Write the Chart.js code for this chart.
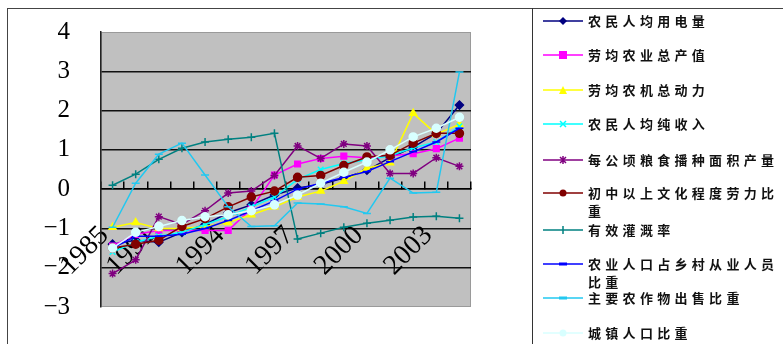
<!DOCTYPE html>
<html>
<head>
<meta charset="utf-8">
<script src="https://cdn.jsdelivr.net/npm/chart.js@4.4.1/dist/chart.umd.min.js"></script>
<style>
  html, body { margin: 0; padding: 0; background: #fff; }
  #wrap { position: relative; width: 783px; height: 344px; overflow: hidden; }
  #c { position: absolute; left: 0; top: 0; }
  #frame { position: absolute; left: 7px; top: 8px; width: 800px; height: 400px; border: 1px solid #444; box-sizing: border-box; }
  #divider { position: absolute; left: 532px; top: 8px; width: 1px; height: 340px; background: #333; }
  .item { position: absolute; left: 543px; }
  .item svg { position: absolute; left: 0; top: 3px; }
  .item .txt { position: absolute; left: 45px; width: 194px; font-family: "Noto Sans CJK SC", sans-serif; font-weight: bold; font-size: 13px; line-height: 18px; letter-spacing: 4.3px; color: #111; }
</style>
</head>
<body>
<div id="wrap">
  <canvas id="c" width="783" height="344"></canvas>
  <div id="frame"></div>
  <div id="divider"></div>
  <div id="legend"></div>
</div>
<script>
// ---- data ----
const categories = ['1985','1990','1991','1992','1993','1994','1995','1996','1997','1998','1999','2000','2001','2002','2003','2004'];
const shownLabelIdx = [0, 2, 5, 8, 11, 14];
const seriesNames = ['农民人均用电量','劳均农业总产值','劳均农机总动力','农民人均纯收入','每公顷粮食播种面积产量','初中以上文化程度劳力比重','有效灌溉率','农业人口占乡村从业人员比重','主要农作物出售比重','城镇人口比重'];
const elecPerCapita   = [-1.40,-1.30,-1.35,-1.10,-0.90,-0.60,-0.40,-0.15,0.03,0.12,0.28,0.48,0.80,1.07,1.42,2.14];
const agriOutputPerLab= [-1.45,-1.15,-1.05,-1.05,-1.05,-1.05,-0.50,0.36,0.64,0.78,0.84,0.80,0.85,0.90,1.03,1.30];
const machPowerPerLab = [-0.97,-0.85,-1.00,-1.00,-0.95,-0.85,-0.65,-0.45,-0.20,-0.05,0.20,0.53,0.67,1.93,1.40,1.65];
const netIncome       = [-1.60,-1.35,-1.20,-1.10,-0.90,-0.70,-0.45,-0.20,0.25,0.50,0.65,0.75,0.85,1.05,1.20,1.60];
const grainYield      = [-2.15,-1.80,-0.70,-0.90,-0.55,-0.10,-0.05,0.35,1.10,0.78,1.15,1.10,0.40,0.40,0.80,0.58];
const eduLaborShare   = [-1.50,-1.40,-1.30,-0.95,-0.75,-0.45,-0.20,-0.05,0.30,0.35,0.60,0.82,0.86,1.17,1.42,1.42];
const irrigationRate  = [0.10,0.38,0.76,1.04,1.20,1.27,1.32,1.42,-1.27,-1.12,-0.97,-0.87,-0.79,-0.71,-0.69,-0.74];
const agriPopShare    = [-1.50,-1.20,-1.20,-1.15,-1.00,-0.80,-0.55,-0.30,0.00,0.15,0.30,0.45,0.70,0.95,1.20,1.55];
const cropSaleShare   = [-0.97,0.15,0.89,1.17,0.36,-0.45,-0.95,-0.93,-0.35,-0.38,-0.45,-0.62,0.28,-0.10,-0.08,2.98];
const urbanPopShare   = [-1.50,-1.10,-0.95,-0.80,-0.70,-0.65,-0.55,-0.40,-0.15,0.15,0.43,0.69,1.00,1.33,1.55,1.83];
const yTicks = [-3,-2,-1,0,1,2,3,4];

const seriesValues = [elecPerCapita, agriOutputPerLab, machPowerPerLab, netIncome, grainYield, eduLaborShare, irrigationRate, agriPopShare, cropSaleShare, urbanPopShare];
const colors = ['#000080','#ff00ff','#ffff00','#00ffff','#800080','#800000','#008080','#0000ff','#22c8f0','#d8ffff'];
const pStyles = ['rectRot','rect','triangle','crossRot','star','circle','cross','line','line','circle'];
const pRadius = [4,4,4,4,4,4,4,4,4,4];

const datasets = seriesValues.map((vals, i) => ({
  label: seriesNames[i],
  data: vals,
  borderColor: colors[i],
  backgroundColor: colors[i],
  pointBorderColor: colors[i],
  pointBackgroundColor: colors[i],
  pointStyle: pStyles[i],
  pointRadius: pRadius[i],
  pointBorderWidth: 1.5,
  borderWidth: 1.5,
  tension: 0,
  order: seriesValues.length - i
}));

const plotBg = {
  id: 'plotBg',
  beforeDraw(chart) {
    const {ctx, chartArea: a} = chart;
    ctx.save();
    ctx.fillStyle = '#c0c0c0';
    ctx.fillRect(a.left, a.top, a.right - a.left, a.bottom - a.top);
    ctx.strokeStyle = '#9a9a9a';
    ctx.lineWidth = 1;
    ctx.strokeRect(a.left + 0.5, a.top + 0.5, a.right - a.left - 1, a.bottom - a.top - 1);
    ctx.restore();
  }
};

new Chart(document.getElementById('c'), {
  type: 'line',
  data: { labels: categories, datasets },
  plugins: [plotBg],
  options: {
    responsive: false,
    animation: false,
    layout: { padding: { left: 0, top: 32, right: 312, bottom: 37 } },
    plugins: { legend: { display: false }, tooltip: { enabled: false } },
    scales: {
      x: {
        position: { y: 0 },
        offset: true,
        afterFit: s => { s.height = 0; s.paddingLeft = 0; s.paddingRight = 0; },
        grid: { display: true, drawOnChartArea: false, drawTicks: true, tickLength: -8, offset: true, color: '#000', lineWidth: 1.5 },
        border: { display: true, color: '#000', width: 1.5 },
        ticks: {
          autoSkip: false, minRotation: 45, maxRotation: 45, padding: 38, labelOffset: -8,
          color: '#000',
          font: { family: '"Liberation Serif", serif', size: 28 },
          callback: (v, i) => shownLabelIdx.includes(i) ? categories[i] : ''
        }
      },
      y: {
        min: -3, max: 4,
        afterFit: s => { s.width = 101; s.paddingTop = 0; s.paddingBottom = 0; },
        afterBuildTicks: s => { s.ticks = yTicks.map(v => ({ value: v })); },
        grid: {
          drawTicks: false,
          lineWidth: 1.5,
          color: c => (c.tick && (c.tick.value === 4 || c.tick.value === -3)) ? 'rgba(0,0,0,0)' : '#111'
        },
        border: { display: true, color: '#222', width: 1.5 },
        ticks: {
          padding: 31, color: '#000',
          font: { family: '"Liberation Serif", serif', size: 25 },
          callback: v => (v < 0 ? '\u2212' + Math.abs(v) : String(v))
        }
      }
    }
  }
});

// ---- HTML legend ----
const legendTops = [21, 55, 90, 124, 160, 193, 230, 264, 298, 333];
function markerSvg(style, color) {
  let m = '';
  const cx = 20, cy = 6;
  if (style === 'rectRot') m = `<polygon points="${cx},${cy-4} ${cx+4},${cy} ${cx},${cy+4} ${cx-4},${cy}" fill="${color}"/>`;
  else if (style === 'rect') m = `<rect x="${cx-4}" y="${cy-4}" width="8" height="8" fill="${color}"/>`;
  else if (style === 'triangle') m = `<polygon points="${cx},${cy-4} ${cx+4},${cy+4} ${cx-4},${cy+4}" fill="${color}"/>`;
  else if (style === 'crossRot') m = `<path d="M${cx-3},${cy-3}L${cx+3},${cy+3}M${cx+3},${cy-3}L${cx-3},${cy+3}" stroke="${color}" stroke-width="1.5"/>`;
  else if (style === 'star') m = `<path d="M${cx-3},${cy-3}L${cx+3},${cy+3}M${cx+3},${cy-3}L${cx-3},${cy+3}M${cx},${cy-4}L${cx},${cy+4}" stroke="${color}" stroke-width="1.5"/>`;
  else if (style === 'circle') m = `<circle cx="${cx}" cy="${cy}" r="3.5" fill="${color}"/>`;
  else if (style === 'cross') m = `<path d="M${cx},${cy-4}L${cx},${cy+4}" stroke="${color}" stroke-width="1.5"/>`;
  else if (style === 'line') m = `<rect x="${cx-4}" y="${cy-1.5}" width="8" height="3" fill="${color}"/>`;
  return `<svg width="40" height="12"><line x1="0" y1="6" x2="40" y2="6" stroke="${color}" stroke-width="1.5"/>${m}</svg>`;
}
const lg = document.getElementById('legend');
seriesNames.forEach((name, i) => {
  const d = document.createElement('div');
  d.className = 'item';
  d.style.top = (legendTops[i] - 9) + 'px';
  d.innerHTML = markerSvg(pStyles[i], colors[i]) + `<div class="txt">${name}</div>`;
  lg.appendChild(d);
});
</script>
</body>
</html>
